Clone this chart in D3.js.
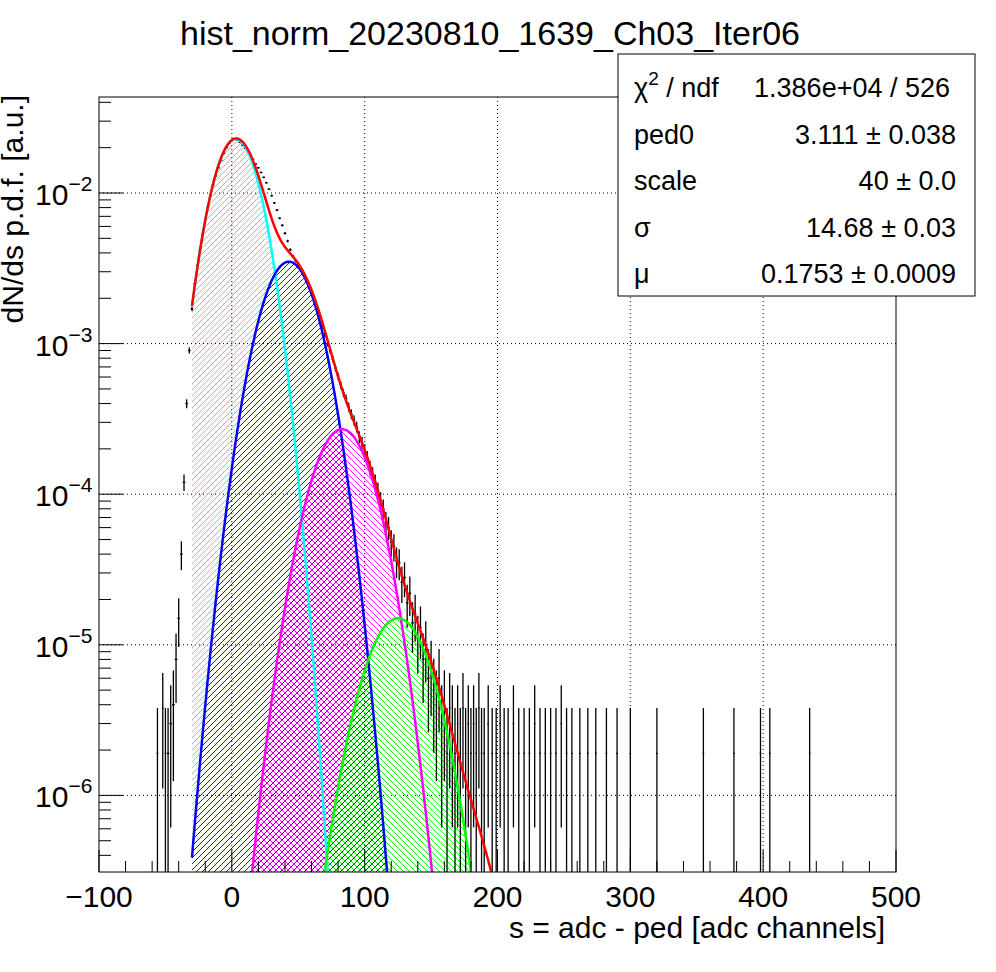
<!DOCTYPE html>
<html><head><meta charset="utf-8">
<script src="https://cdn.jsdelivr.net/npm/d3@7"></script>
<style>body{margin:0;background:#fff}text{font-family:"Liberation Sans",Arial,sans-serif}</style>
</head><body><div id="chart"></div>
<script>
// histogram, main part (bin centre, content), 2-unit bins
const binX = [-48,-46,-44,-42,-40,-38,-36,-34,-32,-30,-28,-26,-24,-22,-20,-18,-16,-14,-12,-10,-8,-6,-4,-2,0,2,4,6,8,10,12,14,16,18,20,22,24,26,28,30,32,34,36,38,40,42,44,46,48,50,52,54,56,58,60,62,64,66,68,70,72,74,76,78,80,82,84,86,88,90,92,94,96,98,100,102,104,106,108,110,112,114,116,118,120,122,124,126,128,130,132,134,136,138,140,142,144,146,148,150];
const binY = [1.9e-6,3e-6,4e-6,8e-6,1.5e-5,4e-5,1.2e-4,4e-4,9e-4,1.7e-3,2.5e-3,3.3e-3,4.2e-3,5.3e-3,6.7e-3,8.1e-3,9.7e-3,1.13e-2,1.3e-2,1.47e-2,1.65e-2,1.83e-2,2.0e-2,2.14e-2,2.24e-2,2.28e-2,2.25e-2,2.17e-2,2.08e-2,1.98e-2,1.87e-2,1.77e-2,1.67e-2,1.56e-2,1.47e-2,1.37e-2,1.27e-2,1.17e-2,1.06e-2,9.6e-3,8.6e-3,7.7e-3,6.8e-3,6.1e-3,5.4e-3,4.8e-3,4.2e-3,3.8e-3,3.55e-3,3.35e-3,3.1e-3,2.85e-3,2.6e-3,2.35e-3,2.15e-3,1.95e-3,1.7e-3,1.5e-3,1.3e-3,1.15e-3,1.0e-3,9e-4,7.9e-4,6.9e-4,6.1e-4,5.3e-4,4.7e-4,4.3e-4,3.8e-4,3.4e-4,3.1e-4,2.8e-4,2.4e-4,2.2e-4,1.95e-4,1.75e-4,1.5e-4,1.35e-4,1.2e-4,1.05e-4,9e-5,8e-5,6.5e-5,6e-5,4.8e-5,4.5e-5,3.6e-5,3.5e-5,2.6e-5,2.8e-5,1.9e-5,2.2e-5,1.4e-5,1.6e-5,1.1e-5,1.3e-5,8e-6,1e-5,6e-6,7e-6];
// sparse tail bins
const tailX = [-56,-52,-50,152,154,156,158,160,162,164,166,168,170,172,174,176,178,180,182,184,186,188,190,193,196,199,202,205,208,212,216,220,224,228,232,236,240,244,248,252,256,262,268,274,282,290,300,320,355,378,398,405,435];
const tailY = [1.9e-6,3.8e-6,1.9e-6,5e-6,4e-6,6e-6,3e-6,4e-6,1.9e-6,3.8e-6,3e-6,1.9e-6,3e-6,1.9e-6,3.8e-6,1.9e-6,3e-6,1.9e-6,3e-6,1.9e-6,3.8e-6,1.9e-6,1.9e-6,3e-6,1.9e-6,1.9e-6,3e-6,1.9e-6,1.9e-6,3e-6,1.9e-6,1.9e-6,1.9e-6,3e-6,1.9e-6,1.9e-6,1.9e-6,1.9e-6,3e-6,1.9e-6,1.9e-6,1.9e-6,1.9e-6,1.9e-6,1.9e-6,1.9e-6,1.9e-6,1.9e-6,1.9e-6,1.9e-6,1.9e-6,1.9e-6,1.9e-6];
const oneCount = 1.9e-6;
// fitted photoelectron peaks (the 5th term only enters the total)
const peakAmp = [0.0228, 0.0035, 2.7e-4, 1.5e-5, 8e-7];
const peakMean = [3, 43, 83, 125, 165];
const peakSigma = [14.6, 17.1, 18.4, 19.8, 21];
const peakColor = ["#00ffff", "#0000ff", "#ff00ff", "#00ff00"];
const peakHatch = ["/", "/", "\\", "\\"];
const fitRange = [-30, 200];
const statLabels = ["χ² / ndf", "ped0", "scale", "σ", "μ"];
const statValues = ["1.386e+04 / 526", "3.111 ± 0.038", "40 ± 0.0", "14.68 ± 0.03", "0.1753 ± 0.0009"];

const W = 996, H = 972, m = {left: 99, right: 100, top: 97, bottom: 100};
const svg = d3.select("#chart").append("svg").attr("width", W).attr("height", H);
const x = d3.scaleLinear().domain([-100, 500]).range([m.left, W - m.right]);
const y = d3.scaleLog().domain([3.1e-7, 0.0434]).range([H - m.bottom, m.top]);
const yMin = y.domain()[0];

const defs = svg.append("defs");
defs.append("clipPath").attr("id", "clip").append("rect")
  .attr("x", m.left).attr("y", m.top).attr("width", x.range()[1] - m.left).attr("height", y.range()[0] - m.top);
peakColor.forEach((c, i) => {
  const p = defs.append("pattern").attr("id", "h" + i).attr("patternUnits", "userSpaceOnUse")
    .attr("width", 6).attr("height", 6);
  if (peakHatch[i] === "/") p.append("path").attr("d", "M0,6L6,0M-1,1L1,-1M5,7L7,5");
  else p.append("path").attr("d", "M0,0L6,6M-1,5L1,7M5,-1L7,1");
  p.select("path").attr("stroke", c).attr("stroke-width", 0.9);
});

// grid
const xTicks = [-100, 0, 100, 200, 300, 400, 500];
const yTicks = [1e-6, 1e-5, 1e-4, 1e-3, 1e-2];
svg.append("g").selectAll("line").data(xTicks.slice(1, -1)).join("line")
  .attr("x1", d => x(d)).attr("x2", d => x(d)).attr("y1", m.top).attr("y2", y.range()[0])
  .attr("stroke", "#000").attr("stroke-dasharray", "1,3");
svg.append("g").selectAll("line").data(yTicks).join("line")
  .attr("y1", d => y(d)).attr("y2", d => y(d)).attr("x1", m.left).attr("x2", x.range()[1])
  .attr("stroke", "#000").attr("stroke-dasharray", "1,3");

const plot = svg.append("g").attr("clip-path", "url(#clip)");
const gauss = i => s => peakAmp[i] * Math.exp(-0.5 * ((s - peakMean[i]) / peakSigma[i]) ** 2);
const total = s => peakAmp.reduce((a, _, i) => a + gauss(i)(s), 0);
const grid = d3.range(fitRange[0], fitRange[1] + 0.25, 0.5);
const line = f => d3.line().x(d => x(d)).y(d => y(Math.max(f(d), 1e-9)))(grid);
const area = f => d3.area().x(d => x(d)).y0(y(yMin)).y1(d => y(Math.max(f(d), yMin)))(grid);

peakColor.forEach((_, i) => plot.append("path").attr("d", area(gauss(i))).attr("fill", `url(#h${i})`));

// histogram error bars
const bins = binX.map((b, i) => [b, binY[i], 2]).concat(tailX.map((b, i) => [b, tailY[i], 1.2]));
const hg = plot.append("g").attr("stroke", "#000").attr("stroke-width", 1.3);
bins.forEach(([b, v, w]) => {
  const e = Math.sqrt(v * oneCount);
  hg.append("line").attr("x1", x(b)).attr("x2", x(b))
    .attr("y1", y(Math.max(v - e, 1e-9))).attr("y2", y(v + e));
  hg.append("line").attr("x1", x(b - w / 2)).attr("x2", x(b + w / 2)).attr("y1", y(v)).attr("y2", y(v));
});

peakColor.forEach((_, i) => plot.append("path").attr("d", line(gauss(i)))
  .attr("fill", "none").attr("stroke", peakColor[i]).attr("stroke-width", 2.5));
plot.append("path").attr("d", line(total)).attr("fill", "none").attr("stroke", "#ff0000").attr("stroke-width", 2.5);

// frame and axes
svg.append("rect").attr("x", m.left).attr("y", m.top).attr("width", x.range()[1] - m.left)
  .attr("height", y.range()[0] - m.top).attr("fill", "none").attr("stroke", "#000");
const ax = svg.append("g").attr("stroke", "#000");
d3.range(-100, 501, 20).forEach(t => ax.append("line").attr("x1", x(t)).attr("x2", x(t))
  .attr("y1", y.range()[0]).attr("y2", y.range()[0] - (t % 100 === 0 ? 22 : 11)));
[-7, -6, -5, -4, -3, -2].forEach(p => d3.range(1, 10).forEach(k => {
  const v = k * 10 ** p;
  if (v < yMin || v > y.domain()[1]) return;
  ax.append("line").attr("x1", m.left).attr("x2", m.left + (k === 1 ? 24 : 12)).attr("y1", y(v)).attr("y2", y(v));
}));
svg.append("g").selectAll("text").data(xTicks).join("text")
  .attr("x", d => x(d)).attr("y", 907).attr("text-anchor", "middle").attr("font-size", 30)
  .text(d => d < 0 ? "\u2212" + (-d) : d);
const yl = svg.append("g").selectAll("text").data(yTicks).join("text")
  .attr("x", 35).attr("y", d => y(d) + 12).attr("font-size", 30);
yl.text("10").append("tspan").attr("dy", -14).attr("font-size", 21).text(d => "\u2212" + Math.round(-Math.log10(d)));

svg.append("text").attr("x", 885).attr("y", 938).attr("text-anchor", "end").attr("font-size", 30)
  .text("s = adc - ped [adc channels]");
svg.append("text").attr("transform", "translate(23,95) rotate(-90)").attr("text-anchor", "end").attr("font-size", 30)
  .text("dN/ds p.d.f. [a.u.]");
svg.append("text").attr("x", 490).attr("y", 45).attr("text-anchor", "middle").attr("font-size", 34)
  .text("hist_norm_20230810_1639_Ch03_Iter06");

// stats box
svg.append("rect").attr("x", 618).attr("y", 54).attr("width", 357).attr("height", 242)
  .attr("fill", "#fff").attr("stroke", "#000");
statLabels.forEach((l, i) => {
  const ty = 97 + i * 46.5;
  const t = svg.append("text").attr("x", 634).attr("y", ty).attr("font-size", 27);
  if (i === 0) { t.text("χ"); t.append("tspan").attr("dy", -12).attr("font-size", 19).text("2");
    t.append("tspan").attr("dy", 12).text(" / ndf"); }
  else t.text(l);
  svg.append("text").attr("x", i === 0 ? 950 : 956).attr("y", ty).attr("text-anchor", "end").attr("font-size", 27)
    .text(statValues[i]);
});
</script></body></html>
